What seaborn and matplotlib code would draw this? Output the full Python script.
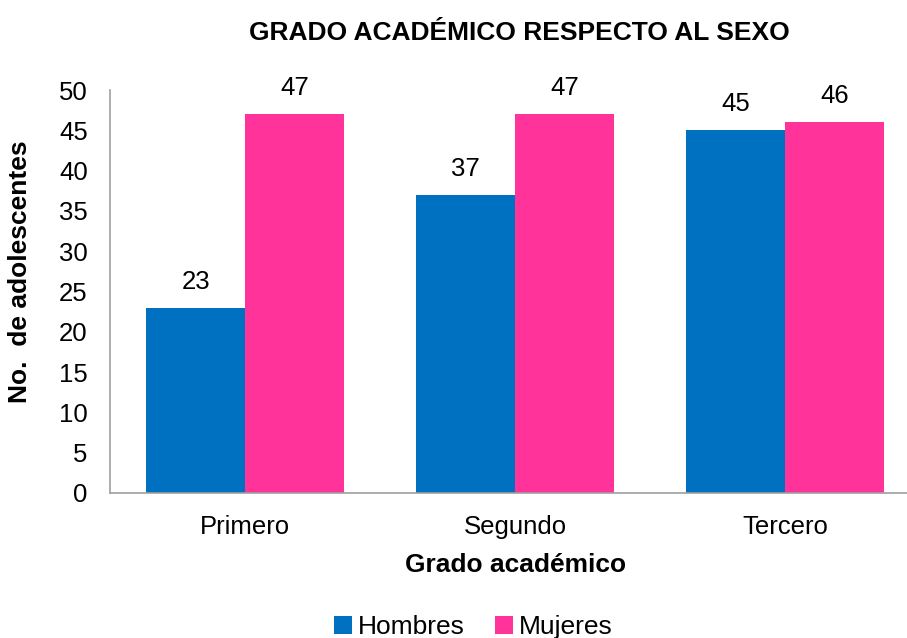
import pandas as pd
import matplotlib
matplotlib.use("Agg")
import matplotlib.pyplot as plt
import seaborn as sns

grados = ["Primero", "Segundo", "Tercero"]
hombres = [23, 37, 45]
mujeres = [47, 47, 46]
sexos = ["Hombres", "Mujeres"]
colores = ["#0070C0", "#FF3399"]

df = pd.DataFrame({
    "grado": grados * 2,
    "sexo": [sexos[0]] * 3 + [sexos[1]] * 3,
    "valor": hombres + mujeres,
})

sns.set_style("white")
plt.rcParams["font.family"] = ["Liberation Sans", "DejaVu Sans"]
plt.rcParams["text.color"] = "black"
plt.rcParams["axes.labelcolor"] = "black"
plt.rcParams["xtick.color"] = "black"
plt.rcParams["ytick.color"] = "black"

fig = plt.figure(figsize=(9.07, 6.38), dpi=100)
ax = fig.add_axes([110 / 907, 145 / 638, 797 / 907, 403 / 638])

sns.barplot(data=df, x="grado", y="valor", hue="sexo", palette=colores,
            saturation=1, width=0.73, linewidth=0, ax=ax, legend=True)

for cont in ax.containers:
    ax.bar_label(cont, fmt="%d", padding=10, fontsize=18.5, color="black")

ax.set_ylim(0, 50)
ax.set_yticks(range(0, 51, 5))
ax.set_xlim(-0.5, -0.5 + 797 / 270)
ax.tick_params(axis="both", labelsize=18.5, length=0)
ax.tick_params(axis="x", pad=16)
ax.tick_params(axis="y", pad=16)

for s in ["top", "right"]:
    ax.spines[s].set_visible(False)
for s in ["left", "bottom"]:
    ax.spines[s].set_color("#A0A0A0")
    ax.spines[s].set_linewidth(1.2)

ax.set_xlabel("Grado académico", fontsize=19, fontweight="bold")
ax.set_ylabel("No.  de adolescentes", fontsize=19, fontweight="bold")
ax.xaxis.set_label_coords(0.509, -0.15)
ax.yaxis.set_label_coords(-0.098, 0.548)
fig.text(519 / 907, 1 - 33 / 638, "GRADO ACADÉMICO RESPECTO AL SEXO", ha="center", va="center",
         fontsize=19, fontweight="bold")

ax.legend(loc="lower center", bbox_to_anchor=(473 / 907, -25 / 638), bbox_transform=fig.transFigure,
          ncol=2, frameon=False, fontsize=19, handlelength=0.7, handleheight=0.7,
          handletextpad=0.2, columnspacing=1.15, title=None)

fig.savefig("out.png", dpi=100)
